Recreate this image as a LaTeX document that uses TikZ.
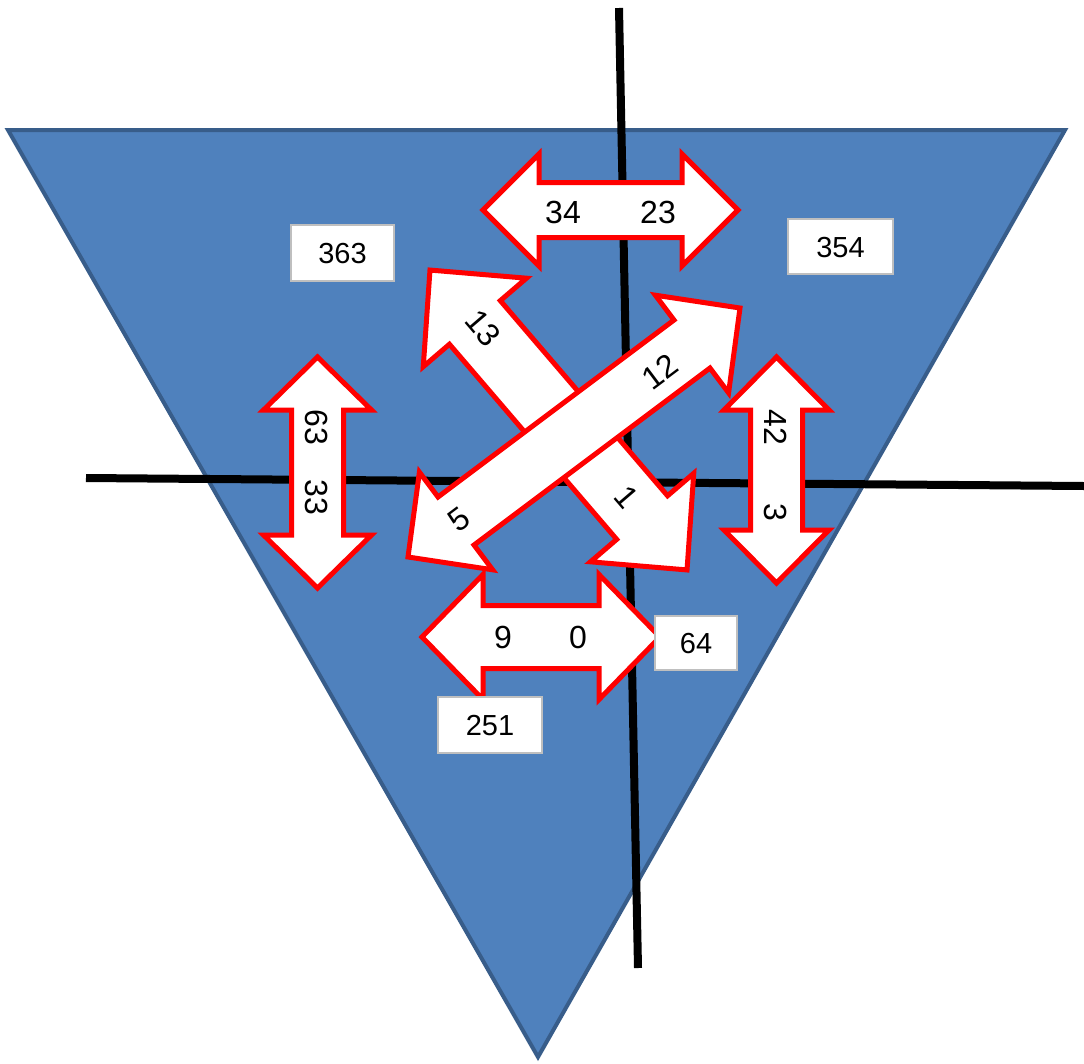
\documentclass[tikz,border=0pt]{standalone}
\usepackage{fontspec}
\setmainfont{Liberation Sans}
\definecolor{triFill}{HTML}{4F81BD}
\definecolor{triLine}{HTML}{385D8A}
\definecolor{boxLine}{HTML}{BFBFBF}
\tikzset{
  tri/.style={fill=triFill, draw=triLine, line width=4pt, line join=miter},
  axisline/.style={draw=black, line width=8pt},
  dblarr/.style={fill=white, draw=red, line width=5pt, line join=miter},
  lbl/.style={inner sep=0pt, font=\fontsize{32}{32}\selectfont},
  boxlbl/.style={fill=white, draw=boxLine, line width=2pt, inner sep=0pt,
    font=\fontsize{29}{29}\selectfont, text height=21pt, text depth=0pt}
}
% #1 center, #2 angle, #3 half length, #4 head length, #5 head half width, #6 shaft half width
\newcommand\mydblarrow[6]{%
  \begin{scope}[shift={#1}, rotate=#2]
    \path[dblarr] (-#3,0) -- ({-#3+#4},-#5) -- ({-#3+#4},-#6) -- ({#3-#4},-#6)
      -- ({#3-#4},-#5) -- (#3,0) -- ({#3-#4},#5) -- ({#3-#4},#6)
      -- ({-#3+#4},#6) -- ({-#3+#4},#5) -- cycle;
  \end{scope}}
\begin{document}
\begin{tikzpicture}[x=1pt,y=-1pt]
\useasboundingbox (0,0) rectangle (1084,1063);
% triangle
\coordinate (t1) at (8,130);
\coordinate (t2) at (1065,130);
\coordinate (t3) at (538,1057);
\path[tri] (t1) -- (t2) -- (t3) -- cycle;
% axes
\coordinate (vTop) at (619,8);
\coordinate (vBot) at (638,968);
\coordinate (hL) at (86,478);
\coordinate (hR) at (1084,486);
\draw[axisline] (vTop) -- (vBot);
\draw[axisline] (hL) -- (hR);
% double arrows
\mydblarrow{(610.5,210)}{0}{127.5}{56}{56}{27.5}
\mydblarrow{(317.5,472.5)}{90}{115.5}{53}{54}{26}
\mydblarrow{(776.5,470)}{90}{113}{53}{52.5}{26}
\mydblarrow{(541,637)}{0}{119}{61}{62.5}{31.5}
\mydblarrow{(558.5,420)}{-49.4}{197.5}{69}{68}{33.5}
\mydblarrow{(574,432.5)}{36.87}{207.5}{60}{61}{30}
% arrow labels
\node[lbl] (l34) at (563,212) {34};
\node[lbl] (l23) at (658,212) {23};
\node[lbl, rotate=-90] (l63) at (317,427) {63};
\node[lbl, rotate=-90] (l33) at (317,497) {33};
\node[lbl, rotate=-90] (l42) at (776,427) {42};
\node[lbl, rotate=-90] (l3) at (776,512) {3};
\node[lbl] (l9) at (503,637) {9};
\node[lbl] (l0) at (578,637) {0};
\node[lbl, rotate=-49.4] (l13) at (483,328) {13};
\node[lbl, rotate=-49.4] (l1) at (627,497) {1};
\node[lbl, rotate=36.87] (l12) at (660,372) {12};
\node[lbl, rotate=36.87] (l5) at (459,519) {5};
% boxed labels
\node[boxlbl, minimum width=103pt, minimum height=56pt] (b363) at (342.5,253) {363};
\node[boxlbl, minimum width=105pt, minimum height=55pt] (b354) at (840.5,246.5) {354};
\node[boxlbl, minimum width=82pt, minimum height=54pt] (b64) at (696,643) {64};
\node[boxlbl, minimum width=104pt, minimum height=56pt] (b251) at (490,725) {251};
\end{tikzpicture}
\end{document}
